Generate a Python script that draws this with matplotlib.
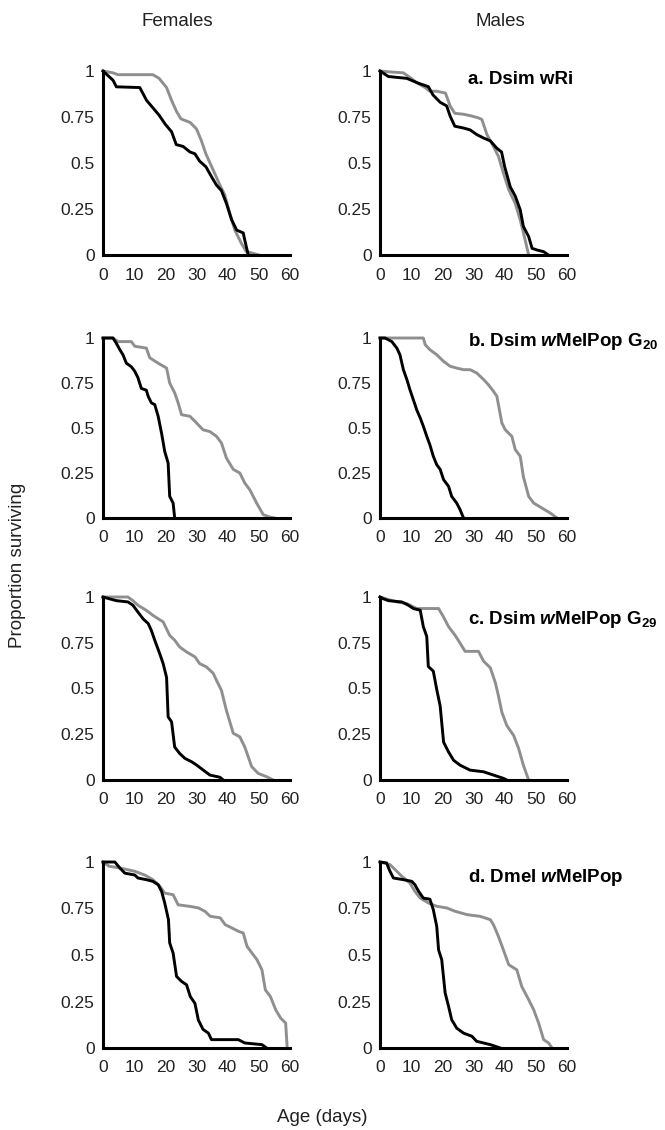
import numpy as np
import matplotlib.pyplot as plt

plt.rcParams['font.family'] = ['Liberation Sans', 'DejaVu Sans']
plt.rcParams['mathtext.fontset'] = 'custom'
plt.rcParams['mathtext.rm'] = 'Liberation Sans:bold'
plt.rcParams['mathtext.it'] = 'Liberation Sans:italic:bold'
plt.rcParams['mathtext.bf'] = 'Liberation Sans:bold'

BLACK = '#000000'
GRAY = '#8f8f8f'

# survival curves: (age in days, proportion surviving)
# a. Dsim wRi
fa_black_t = [0, 3.2, 4.3, 11.8, 14, 16, 18, 20, 22, 23.5, 25.7, 27.9, 29.5, 31, 33, 35, 36.4, 38, 39.6, 41.3, 42.9, 45, 45.5, 46.6]
fa_black_s = [1, 0.95, 0.914, 0.91, 0.84, 0.80, 0.76, 0.71, 0.67, 0.60, 0.59, 0.56, 0.55, 0.51, 0.48, 0.42, 0.38, 0.35, 0.28, 0.19, 0.135, 0.12, 0.08, 0.0]
fa_gray_t = [0, 3.2, 4.8, 16, 18, 20.4, 22, 23.6, 25, 28, 30, 31.6, 33, 35.4, 37.5, 39, 40.7, 42.3, 44.5, 46, 48, 50]
fa_gray_s = [1, 0.99, 0.98, 0.98, 0.96, 0.91, 0.84, 0.78, 0.74, 0.72, 0.685, 0.62, 0.55, 0.46, 0.38, 0.33, 0.225, 0.135, 0.06, 0.018, 0.01, 0.0]

ma_black_t = [0, 2.7, 8.6, 10.7, 12.9, 15.5, 17, 19.3, 21.4, 22.5, 24, 26.8, 28.9, 31, 33.2, 35.4, 37.5, 39, 40, 41.8, 43.4, 45, 46, 47.7, 48.8, 50.4, 52.5, 54]
ma_black_s = [1, 0.97, 0.96, 0.945, 0.93, 0.915, 0.87, 0.83, 0.81, 0.755, 0.70, 0.69, 0.68, 0.655, 0.636, 0.62, 0.58, 0.56, 0.48, 0.37, 0.32, 0.245, 0.155, 0.10, 0.036, 0.027, 0.018, 0.0]
ma_gray_t = [0, 3.2, 7.5, 9.6, 11.8, 14.5, 16, 18.2, 21, 22.5, 24, 26.8, 29.5, 31.6, 32.7, 34.3, 36.4, 38, 39.6, 41.3, 43.4, 45, 46.6, 47.7]
ma_gray_s = [1, 0.995, 0.99, 0.965, 0.936, 0.91, 0.89, 0.89, 0.88, 0.81, 0.77, 0.765, 0.755, 0.745, 0.736, 0.655, 0.59, 0.536, 0.445, 0.355, 0.28, 0.19, 0.08, 0.0]

# b. Dsim wMelPop G20
fb_black_t = [0, 3.2, 4.3, 5.4, 6.4, 7.5, 9.1, 10.2, 11.2, 12.3, 13.9, 14.5, 15.5, 16.6, 17.7, 18.8, 19.8, 20.9, 21.4, 22.5, 23]
fb_black_s = [1, 1, 0.97, 0.935, 0.907, 0.86, 0.84, 0.815, 0.78, 0.72, 0.71, 0.676, 0.64, 0.63, 0.565, 0.47, 0.37, 0.305, 0.12, 0.083, 0.0]
fb_gray_t = [0, 3.2, 4.8, 9.1, 10.2, 13.9, 15, 17.7, 20.4, 21.4, 23, 24.1, 25.2, 27.9, 30, 32.1, 34.3, 36.4, 38, 39.6, 41.8, 43.9, 45.5, 47.1, 49.3, 51.4, 53.6, 55]
fb_gray_s = [1, 1, 0.98, 0.98, 0.954, 0.944, 0.89, 0.86, 0.833, 0.75, 0.695, 0.64, 0.574, 0.565, 0.528, 0.49, 0.48, 0.454, 0.417, 0.333, 0.27, 0.25, 0.194, 0.157, 0.083, 0.0185, 0.005, 0.0]

mb_black_t = [0, 1.6, 2.7, 3.8, 5.4, 6.4, 7.5, 8.6, 9.6, 10.7, 11.8, 12.9, 13.9, 15, 16, 17.1, 18.2, 19.3, 20.4, 22, 23, 24.6, 25.7, 26.8]
mb_black_s = [1, 1, 0.99, 0.98, 0.944, 0.907, 0.824, 0.77, 0.713, 0.657, 0.60, 0.556, 0.51, 0.454, 0.407, 0.343, 0.296, 0.27, 0.213, 0.176, 0.12, 0.083, 0.046, 0.0]
mb_gray_t = [0, 13.9, 14.5, 16, 18.2, 20.4, 22.5, 24.6, 26.8, 28.9, 31, 33.2, 34.8, 36.4, 37.5, 39.1, 40.2, 42.3, 43.4, 45, 46, 47.7, 49.3, 51.9, 54.6, 56.8]
mb_gray_s = [1, 1, 0.963, 0.935, 0.907, 0.87, 0.843, 0.833, 0.824, 0.824, 0.806, 0.77, 0.74, 0.704, 0.676, 0.528, 0.49, 0.454, 0.38, 0.343, 0.23, 0.12, 0.083, 0.056, 0.028, 0.0]

# c. Dsim wMelPop G29
fc_black_t = [0, 2.1, 4.3, 8, 9.6, 11.2, 12.9, 14.5, 15.5, 16.6, 18.2, 19.3, 20.4, 20.9, 22, 23, 24.6, 26.3, 28.4, 30, 32.1, 34.3, 37.5, 38.6]
fc_black_s = [1, 0.99, 0.98, 0.973, 0.955, 0.918, 0.88, 0.855, 0.818, 0.764, 0.69, 0.636, 0.56, 0.345, 0.318, 0.18, 0.145, 0.118, 0.10, 0.082, 0.055, 0.027, 0.015, 0.0]
fc_gray_t = [0, 8, 9.6, 11.2, 13.9, 16, 19.3, 21.4, 23, 24.6, 26.8, 29.5, 31, 33.2, 35.4, 36.4, 38, 39.6, 41.8, 43.9, 45.5, 47.7, 49.8, 52.5, 54.6]
fc_gray_s = [1, 1, 0.98, 0.955, 0.927, 0.90, 0.864, 0.79, 0.764, 0.727, 0.70, 0.673, 0.636, 0.618, 0.582, 0.545, 0.49, 0.38, 0.255, 0.236, 0.18, 0.073, 0.036, 0.018, 0.0]

mc_black_t = [0, 1.1, 2.7, 7, 9.1, 10.7, 12.9, 13.9, 15, 15.5, 17.1, 18.2, 19.3, 20.4, 22, 23.6, 25.7, 28.9, 33.2, 36.4, 39.6, 40.7]
mc_black_s = [1, 0.99, 0.98, 0.973, 0.955, 0.937, 0.928, 0.838, 0.784, 0.62, 0.595, 0.495, 0.405, 0.207, 0.153, 0.108, 0.081, 0.054, 0.045, 0.027, 0.009, 0.0]
mc_gray_t = [0, 5.4, 8.6, 11.8, 18.8, 20.4, 22, 24, 25.7, 27.3, 31.6, 33.2, 35.4, 37, 38, 39.1, 40.7, 42.9, 44.5, 46, 47.7]
mc_gray_s = [1, 0.973, 0.964, 0.937, 0.937, 0.89, 0.838, 0.793, 0.748, 0.703, 0.703, 0.65, 0.613, 0.532, 0.46, 0.37, 0.297, 0.243, 0.171, 0.081, 0.0]

# d. Dmel wMelPop
fd_black_t = [0, 3.8, 5.4, 7, 10.2, 11.2, 13.9, 16, 17.7, 18.8, 19.8, 21, 21.4, 22.5, 23.6, 25.2, 26.8, 28, 29.5, 30.6, 32.1, 33.8, 34.8, 43.4, 45.5, 51, 52.5]
fd_black_s = [1, 1, 0.968, 0.94, 0.93, 0.914, 0.905, 0.896, 0.878, 0.842, 0.78, 0.69, 0.565, 0.51, 0.385, 0.358, 0.34, 0.277, 0.24, 0.15, 0.10, 0.08, 0.045, 0.045, 0.027, 0.018, 0.0]
fd_gray_t = [0, 2, 5.4, 10.2, 13.4, 16, 18.2, 19.8, 22.5, 24.1, 28.4, 30.6, 32.7, 34.4, 37.6, 39.2, 41.4, 43.5, 45, 46.2, 47.8, 49.4, 51, 52.1, 53.7, 55.4, 57, 58.6, 59.1]
fd_gray_s = [1, 0.977, 0.968, 0.95, 0.93, 0.905, 0.87, 0.833, 0.824, 0.77, 0.76, 0.753, 0.735, 0.708, 0.70, 0.663, 0.645, 0.627, 0.618, 0.547, 0.51, 0.475, 0.42, 0.312, 0.277, 0.206, 0.161, 0.134, 0.0]

md_black_t = [0, 2.1, 3.2, 4.3, 7.5, 10.2, 11.2, 12.4, 13.9, 16, 17.1, 18.2, 18.8, 19.8, 20.9, 22, 23, 24.6, 26.8, 29.5, 31, 33.2, 35.4, 38.6]
md_black_s = [1, 0.995, 0.95, 0.914, 0.905, 0.896, 0.878, 0.842, 0.806, 0.80, 0.744, 0.654, 0.527, 0.475, 0.296, 0.224, 0.152, 0.107, 0.08, 0.063, 0.036, 0.027, 0.018, 0.0]
md_gray_t = [0, 3.2, 4.8, 7, 9.6, 11.2, 12.9, 15.5, 18.2, 21.4, 24.1, 27.9, 32.1, 35.4, 36.4, 38, 39.6, 41.3, 43.9, 45.5, 47.7, 49.3, 50.9, 52.5, 54.1, 55.2]
md_gray_s = [1, 0.986, 0.96, 0.923, 0.887, 0.842, 0.806, 0.78, 0.762, 0.753, 0.735, 0.717, 0.708, 0.69, 0.663, 0.60, 0.527, 0.448, 0.42, 0.33, 0.26, 0.206, 0.134, 0.045, 0.027, 0.0]

x_ticks = [0, 10, 20, 30, 40, 50, 60]
y_ticks = [0, 0.25, 0.5, 0.75, 1]
y_tick_labels = ['0', '0.25', '0.5', '0.75', '1']

panels = [
    [(fa_black_t, fa_black_s, fa_gray_t, fa_gray_s), (ma_black_t, ma_black_s, ma_gray_t, ma_gray_s)],
    [(fb_black_t, fb_black_s, fb_gray_t, fb_gray_s), (mb_black_t, mb_black_s, mb_gray_t, mb_gray_s)],
    [(fc_black_t, fc_black_s, fc_gray_t, fc_gray_s), (mc_black_t, mc_black_s, mc_gray_t, mc_gray_s)],
    [(fd_black_t, fd_black_s, fd_gray_t, fd_gray_s), (md_black_t, md_black_s, md_gray_t, md_gray_s)],
]
labels = ['a. Dsim wRi', r'b. Dsim $\mathit{w}$MelPop G$_{20}$',
          r'c. Dsim $\mathit{w}$MelPop G$_{29}$', r'd. Dmel $\mathit{w}$MelPop']

W, H = 665, 1130
fig = plt.figure(figsize=(W / 100, H / 100), dpi=100)

col_left = [103, 380]
col_width = 187
row_top = [71, 338, 597, 862]
row_bottom = [255, 518, 780, 1048]
label_y = [80, 342, 620, 878]

for r in range(4):
    for c in range(2):
        bt, bs, gt, gs = panels[r][c]
        ax = fig.add_axes([col_left[c] / W, 1 - row_bottom[r] / H,
                           col_width / W, (row_bottom[r] - row_top[r]) / H])
        ax.plot(gt, gs, color=GRAY, lw=2.1, clip_on=False, zorder=2)
        ax.plot(bt, bs, color=BLACK, lw=2.1, clip_on=False, zorder=3)
        ax.set_xlim(0, 60)
        ax.set_ylim(0, 1)
        for side in ['top', 'right']:
            ax.spines[side].set_visible(False)
        for side in ['left', 'bottom']:
            ax.spines[side].set_linewidth(2.2)
            ax.spines[side].set_zorder(4)
        ax.set_xticks(x_ticks)
        ax.set_yticks(y_ticks)
        ax.set_yticklabels(y_tick_labels)
        ax.tick_params(axis='x', length=0, pad=9, labelsize=12.5, colors='#222222')
        ax.tick_params(axis='y', length=0, pad=6, labelsize=12.5, colors='#222222')
        if c == 1:
            fig.text(468 / W, 1 - label_y[r] / H, labels[r], fontsize=13.5,
                     fontweight='bold', va='center', ha='left')

fig.text(177 / W, 1 - 21 / H, 'Females', fontsize=13.5, ha='center', va='center', color='#222222')
fig.text(500 / W, 1 - 21 / H, 'Males', fontsize=13.5, ha='center', va='center', color='#222222')
fig.text(18 / W, 1 - 565 / H, 'Proportion surviving', fontsize=13.5, rotation=90,
         ha='center', va='center', color='#222222')
fig.text(322 / W, 1 - 1117 / H, 'Age (days)', fontsize=13.5, ha='center', va='center', color='#222222')

fig.savefig('out.png', dpi=100)
